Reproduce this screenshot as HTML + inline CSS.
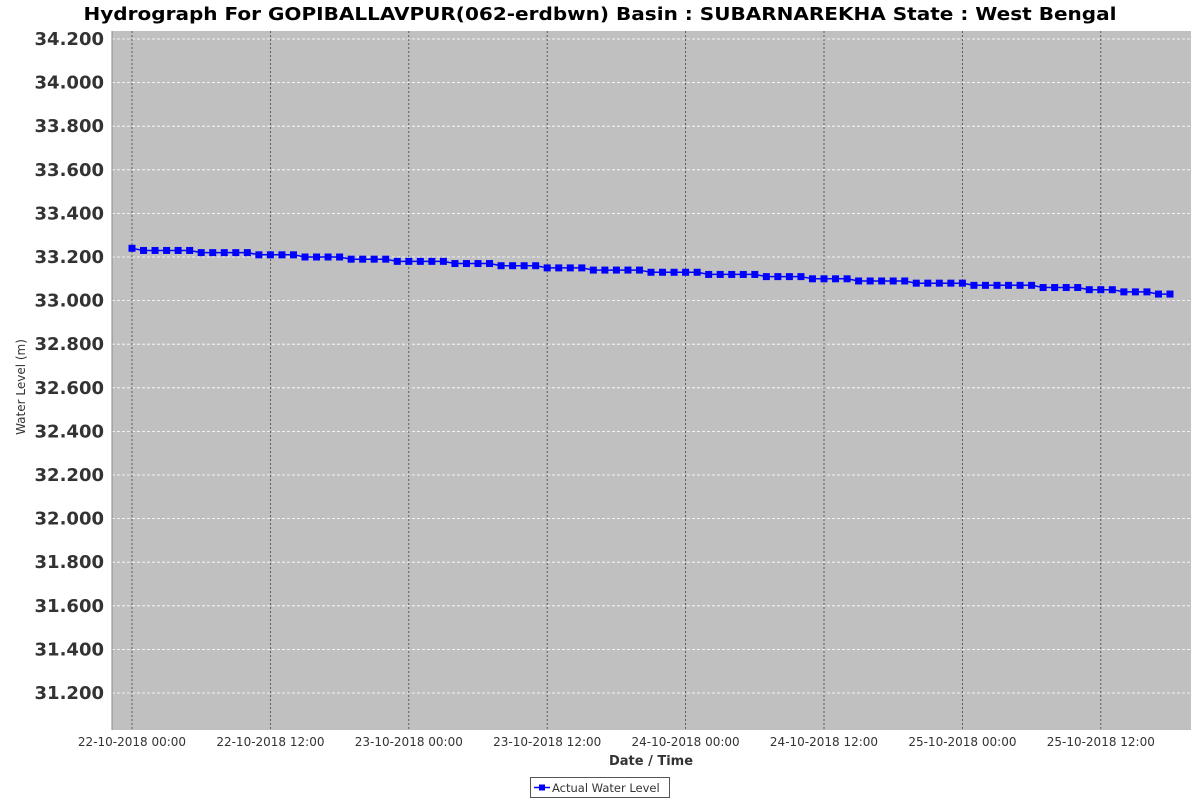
<!DOCTYPE html>
<html><head><meta charset="utf-8"><style>
body{margin:0;background:#fff;width:1200px;height:800px;overflow:hidden;font-family:"DejaVu Sans",sans-serif}
</style></head><body>
<svg id="chart" width="1200" height="800" xmlns="http://www.w3.org/2000/svg" font-family="DejaVu Sans, sans-serif">
<text x="600" y="20" text-anchor="middle" font-size="18" font-weight="bold" textLength="1033" lengthAdjust="spacingAndGlyphs">Hydrograph For GOPIBALLAVPUR(062-erdbwn) Basin : SUBARNAREKHA State : West Bengal</text>
<rect x="112" y="31" width="1079" height="699" fill="#c0c0c0"/>
<g id="grid"></g>
<g id="axes"></g>
<g id="series"></g>
<text transform="translate(25,387) rotate(-90)" text-anchor="middle" font-size="12" fill="#333">Water Level (m)</text>
<text x="651" y="765" text-anchor="middle" font-size="13" fill="#333" font-weight="bold">Date / Time</text>
<g>
<rect x="530.5" y="777.5" width="139" height="20" fill="#fff" stroke="#555"/>
<line x1="534" y1="787.5" x2="550" y2="787.5" stroke="#0000ff" stroke-width="1.5"/>
<rect x="539" y="784.5" width="6" height="6" fill="#0000ff"/>
<text x="552" y="792" font-size="11.5" fill="#333">Actual Water Level</text>
</g>
<line x1="112" y1="31" x2="112" y2="730" stroke="#888"/>
</svg>
<script>
const yTicks=[31.2,31.4,31.6,31.8,32.0,32.2,32.4,32.6,32.8,33.0,33.2,33.4,33.6,33.8,34.0,34.2];
const xTickLabels=["22-10-2018 00:00","22-10-2018 12:00","23-10-2018 00:00","23-10-2018 12:00","24-10-2018 00:00","24-10-2018 12:00","25-10-2018 00:00","25-10-2018 12:00"];
const xTickHours=[0,12,24,36,48,60,72,84];
const levels=[33.24,
33.23,33.23,33.23,33.23,33.23,
33.22,33.22,33.22,33.22,33.22,
33.21,33.21,33.21,33.21,
33.20,33.20,33.20,33.20,
33.19,33.19,33.19,33.19,
33.18,33.18,33.18,33.18,33.18,
33.17,33.17,33.17,33.17,
33.16,33.16,33.16,33.16,
33.15,33.15,33.15,33.15,
33.14,33.14,33.14,33.14,33.14,
33.13,33.13,33.13,33.13,33.13,
33.12,33.12,33.12,33.12,33.12,
33.11,33.11,33.11,33.11,
33.10,33.10,33.10,33.10,
33.09,33.09,33.09,33.09,33.09,
33.08,33.08,33.08,33.08,33.08,
33.07,33.07,33.07,33.07,33.07,33.07,
33.06,33.06,33.06,33.06,
33.05,33.05,33.05,
33.04,33.04,33.04,
33.03,33.03];
const NS="http://www.w3.org/2000/svg";
const yScale=v=>693-(v-31.2)*(654/3.0);
const xScale=h=>132+h*(1170-132)/90;
function mk(tag,attrs,parent){const e=document.createElementNS(NS,tag);for(const k in attrs)e.setAttribute(k,attrs[k]);document.getElementById(parent).appendChild(e);return e;}
yTicks.forEach(v=>{const y=yScale(v);
const l=mk('line',{x1:112,x2:1191,y1:y,y2:y,stroke:'#fff','stroke-dasharray':'3,2','stroke-width':0.8},'grid');


const t=mk('text',{x:104,y:y+6,'text-anchor':'end','font-size':18,'font-weight':'bold',fill:'#333'},'axes');
t.textContent=v.toFixed(3);


});
xTickHours.forEach((h,i)=>{const x=xScale(h);
const l=mk('line',{x1:x,x2:x,y1:31,y2:730,stroke:'#444','stroke-dasharray':'2,2','stroke-width':0.8},'grid');


const t=mk('text',{x:x,y:746,'text-anchor':'middle','font-size':12,fill:'#333'},'axes');
t.textContent=xTickLabels[i];


});
const pts=levels.map((v,i)=>xScale(i).toFixed(1)+','+yScale(v).toFixed(1)).join(' ');
const pl=mk('polyline',{points:pts,fill:'none',stroke:'#0000ff','stroke-width':1.5},'series');


levels.forEach((v,i)=>{const r=mk('rect',{x:xScale(i)-3.5,y:yScale(v)-3.5,width:7,height:7,fill:'#0000ff'},'series');


});
</script>
</body></html>
